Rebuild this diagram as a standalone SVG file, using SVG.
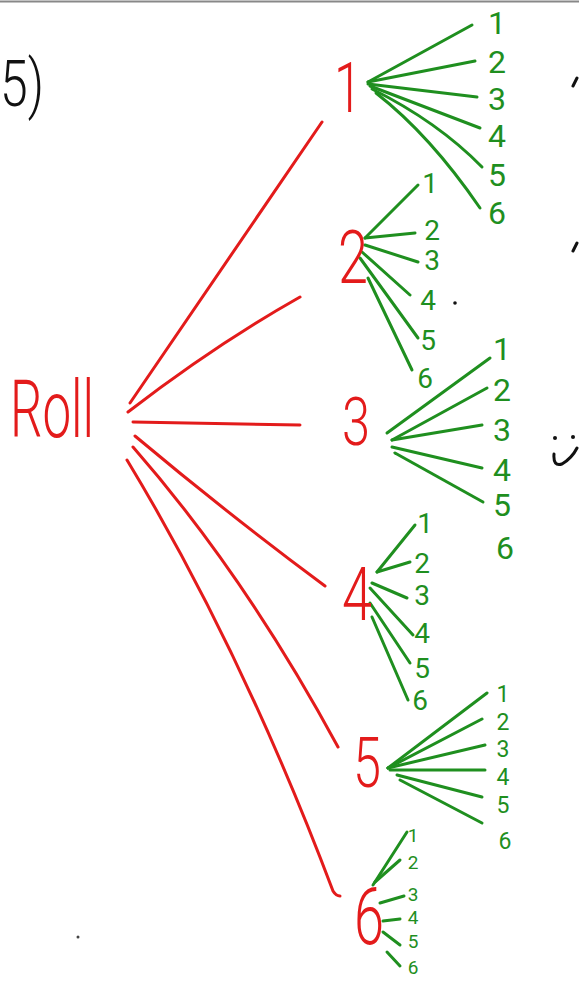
<svg xmlns="http://www.w3.org/2000/svg" width="579" height="987" viewBox="0 0 579 987">
<style>
  .r { fill: none; stroke: #e31b1b; stroke-width: 3; stroke-linecap: round; }
  .g { fill: none; stroke: #1f8f1f; stroke-width: 3; stroke-linecap: round; }
  .k { fill: none; stroke: #111; stroke-width: 3; stroke-linecap: round; }
  text { font-family: Roboto, "Liberation Sans", sans-serif; font-weight: 300; text-anchor: middle; }
  .rt { fill: #e31b1b; }
  .gt { fill: #1f8f1f; font-weight: 400; }
  .kt { fill: #111; }
</style>
<rect x="0" y="0" width="579" height="987" fill="#fff"/>
<line x1="0" y1="1.5" x2="579" y2="1.5" stroke="#888" stroke-width="2"/>

<g id="title">
  <text class="kt" x="22" y="106" font-size="64" textLength="44" lengthAdjust="spacingAndGlyphs">5)</text>
</g>

<g id="root">
  <text class="rt" x="52" y="437" font-size="80" textLength="84" lengthAdjust="spacingAndGlyphs">Roll</text>
</g>

<g id="connectors">
  <!-- red first-level branches -->
  <path class="r" d="M130,403 L322,122"/>
  <path class="r" d="M128,412 Q215,345 300,297"/>
  <path class="r" d="M133,422 L300,425"/>
  <path class="r" d="M135,436 Q228,514 325,586"/>
  <path class="r" d="M133,447 Q245,575 338,747"/>
  <path class="r" d="M127,460 Q242,650 333,891 Q336,896 340,896"/>

  <!-- node 1 -->
  <path class="g" d="M368,82 L472,25"/>
  <path class="g" d="M368,82 L475,61"/>
  <path class="g" d="M368,84 L477,97"/>
  <path class="g" d="M370,86 L480,128"/>
  <path class="g" d="M372,89 Q438,122 482,167"/>
  <path class="g" d="M376,93 Q430,135 480,208"/>

  <!-- node 2 -->
  <path class="g" d="M365,238 L418,185"/>
  <path class="g" d="M365,238 L415,233"/>
  <path class="g" d="M365,245 L418,262"/>
  <path class="g" d="M362,252 L410,295"/>
  <path class="g" d="M360,258 L418,338"/>
  <path class="g" d="M368,278 L412,370"/>

  <!-- node 3 -->
  <path class="g" d="M387,433 L490,358"/>
  <path class="g" d="M392,440 L487,388"/>
  <path class="g" d="M392,440 L482,425"/>
  <path class="g" d="M392,447 L482,468"/>
  <path class="g" d="M395,453 L483,502"/>

  <!-- node 4 -->
  <path class="g" d="M377,572 L415,525"/>
  <path class="g" d="M377,572 L410,562"/>
  <path class="g" d="M372,583 L407,598"/>
  <path class="g" d="M370,588 L413,635"/>
  <path class="g" d="M370,603 L410,663"/>
  <path class="g" d="M372,617 L408,700"/>

  <!-- node 5 -->
  <path class="g" d="M388,768 L487,693"/>
  <path class="g" d="M388,768 L482,719"/>
  <path class="g" d="M388,768 L485,745"/>
  <path class="g" d="M390,770 L485,770"/>
  <path class="g" d="M397,775 L482,797"/>
  <path class="g" d="M400,780 L482,823"/>

  <!-- node 6 -->
  <path class="g" d="M373,885 L407,832"/>
  <path class="g" d="M375,882 L400,860"/>
  <path class="g" d="M380,903 L404,896"/>
  <path class="g" d="M383,921 L400,919"/>
  <path class="g" d="M383,932 L400,945"/>
  <path class="g" d="M387,952 L400,966"/>
</g>

<g id="n1">
  <text class="rt" x="348" y="112" font-size="70" textLength="28" lengthAdjust="spacingAndGlyphs">1</text>
  <text class="gt" x="497" y="34" font-size="32">1</text>
  <text class="gt" x="497" y="73" font-size="32">2</text>
  <text class="gt" x="497" y="110" font-size="32">3</text>
  <text class="gt" x="497" y="147" font-size="32">4</text>
  <text class="gt" x="497" y="186" font-size="32">5</text>
  <text class="gt" x="497" y="224" font-size="32">6</text>
</g>

<g id="n2">
  <text class="rt" x="353" y="283" font-size="74" textLength="30" lengthAdjust="spacingAndGlyphs">2</text>
  <text class="gt" x="430" y="193" font-size="28">1</text>
  <text class="gt" x="432" y="240" font-size="28">2</text>
  <text class="gt" x="432" y="270" font-size="28">3</text>
  <text class="gt" x="428" y="310" font-size="28">4</text>
  <text class="gt" x="428" y="350" font-size="28">5</text>
  <text class="gt" x="425" y="388" font-size="28">6</text>
</g>

<g id="n3">
  <text class="rt" x="356" y="445" font-size="66" textLength="28" lengthAdjust="spacingAndGlyphs">3</text>
  <text class="gt" x="502" y="360" font-size="32">1</text>
  <text class="gt" x="502" y="401" font-size="32">2</text>
  <text class="gt" x="502" y="441" font-size="32">3</text>
  <text class="gt" x="502" y="481" font-size="32">4</text>
  <text class="gt" x="502" y="516" font-size="32">5</text>
  <text class="gt" x="505" y="559" font-size="32">6</text>
</g>

<g id="n4">
  <text class="rt" x="357" y="620" font-size="74" textLength="30" lengthAdjust="spacingAndGlyphs">4</text>
  <text class="gt" x="425" y="533" font-size="28">1</text>
  <text class="gt" x="422" y="573" font-size="28">2</text>
  <text class="gt" x="422" y="605" font-size="28">3</text>
  <text class="gt" x="422" y="643" font-size="28">4</text>
  <text class="gt" x="422" y="678" font-size="28">5</text>
  <text class="gt" x="420" y="710" font-size="28">6</text>
</g>

<g id="n5">
  <text class="rt" x="367" y="787" font-size="70" textLength="28" lengthAdjust="spacingAndGlyphs">5</text>
  <text class="gt" x="503" y="702" font-size="23">1</text>
  <text class="gt" x="503" y="730" font-size="23">2</text>
  <text class="gt" x="503" y="757" font-size="23">3</text>
  <text class="gt" x="503" y="785" font-size="23">4</text>
  <text class="gt" x="503" y="813" font-size="23">5</text>
  <text class="gt" x="505" y="849" font-size="23">6</text>
</g>

<g id="n6">
  <text class="rt" x="369" y="944" font-size="80" textLength="30" lengthAdjust="spacingAndGlyphs">6</text>
  <text class="gt" x="413" y="842" font-size="19">1</text>
  <text class="gt" x="413" y="869" font-size="19">2</text>
  <text class="gt" x="413" y="901" font-size="19">3</text>
  <text class="gt" x="413" y="924" font-size="19">4</text>
  <text class="gt" x="413" y="948" font-size="19">5</text>
  <text class="gt" x="413" y="974" font-size="19">6</text>
</g>

<g id="marks">
  <path class="k" d="M573,86 L577,78"/>
  <path class="k" d="M573,251 L577,243"/>
  <circle cx="455" cy="303" r="1.8" fill="#111"/>
  <circle cx="78" cy="937" r="1.5" fill="#444"/>
  <circle cx="555" cy="438" r="2" fill="#111"/>
  <circle cx="573" cy="437" r="2" fill="#111"/>
  <path class="k" d="M554,454 Q553,467 562,464 Q572,458 577,448"/>
</g>
</svg>
